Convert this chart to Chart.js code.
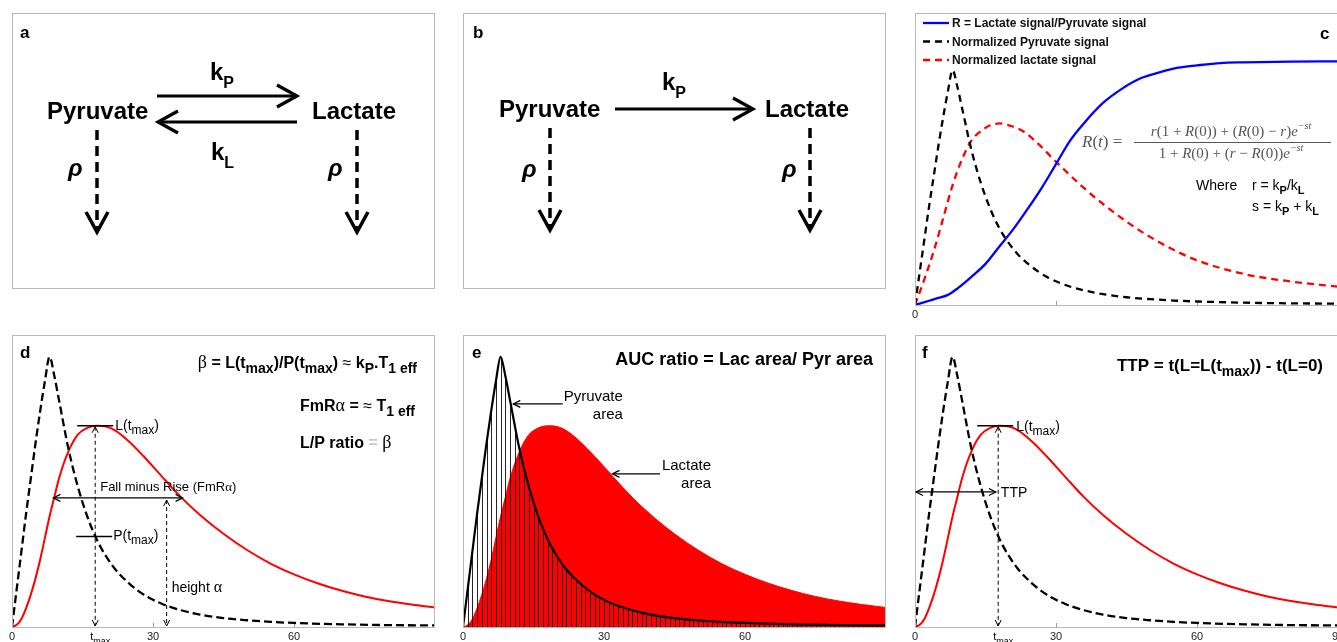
<!DOCTYPE html>
<html>
<head>
<meta charset="utf-8">
<script src="https://cdn.jsdelivr.net/npm/chart.js@4.4.1/dist/chart.umd.min.js"></script>
<style>
  html, body { margin: 0; padding: 0; background: #fff; overflow: hidden; width: 1337px; height: 642px; }
  canvas { position: absolute; }
</style>
</head>
<body>
<canvas id="pa"></canvas>
<canvas id="pb"></canvas>
<canvas id="pc"></canvas>
<canvas id="pd"></canvas>
<canvas id="pe"></canvas>
<canvas id="pf"></canvas>
<script>
// time (s) and normalized signals
const tickValues = [0, 30, 60, 90];
const pyrT   = [0, 1, 2, 3, 4, 5, 6, 7, 8, 9, 10, 12, 14, 16, 18, 20, 22, 25, 28, 32, 36, 40, 45, 50, 55, 60, 70, 80, 90];
const pyrVal = [0, 0.14, 0.28, 0.42, 0.55, 0.68, 0.80, 0.91, 1.0, 0.93, 0.84, 0.66, 0.52, 0.41, 0.325, 0.262, 0.213, 0.16, 0.12, 0.085, 0.062, 0.046, 0.033, 0.025, 0.019, 0.015, 0.010, 0.007, 0.006];
const lacT   = [0, 1, 2, 3, 4, 5, 6, 7, 8, 9, 10, 12, 14, 16, 18, 20, 22, 25, 28, 32, 36, 40, 45, 50, 55, 60, 65, 70, 75, 80, 85, 90];
const lacVal = [0, 0.008, 0.03, 0.07, 0.12, 0.18, 0.25, 0.33, 0.41, 0.48, 0.55, 0.65, 0.712, 0.737, 0.745, 0.742, 0.727, 0.685, 0.632, 0.555, 0.48, 0.415, 0.345, 0.285, 0.235, 0.195, 0.162, 0.135, 0.113, 0.096, 0.083, 0.072];
// panel c simulation
const cLacT   = [0, 2, 4, 6, 8, 10, 12, 14, 16, 18, 20, 23, 26, 30, 35, 40, 45, 50, 55, 60, 70, 80, 90];
const cLacVal = [0, 0.11, 0.23, 0.37, 0.51, 0.62, 0.70, 0.74, 0.765, 0.773, 0.765, 0.74, 0.69, 0.61, 0.515, 0.43, 0.355, 0.29, 0.235, 0.19, 0.132, 0.10, 0.078];
const ratioT   = [0, 3, 5, 7, 9, 12, 15, 18, 21, 24, 27, 30, 33, 36, 40, 44, 48, 52, 56, 60, 65, 70, 80, 90];
const ratioVal = [0, 0.018, 0.03, 0.043, 0.07, 0.12, 0.175, 0.25, 0.325, 0.41, 0.50, 0.60, 0.70, 0.775, 0.86, 0.92, 0.965, 0.99, 1.01, 1.02, 1.03, 1.033, 1.036, 1.037];
const legendLabels = ['R = Lactate signal/Pyruvate signal', 'Normalized Pyruvate signal', 'Normalized lactate signal'];

// annotation markers (time / signal level)
const tMax = 17.7, lTmax = 0.745, pTmax = 0.335;
const fmrLevel = 0.478, fmrStart = 8.8, fmrEnd = 36.3;
const heightT = 32.9, heightTop = 0.47;
const pyrArrow = { level: 0.826, from: 21.2, to: 10.7 };
const lacArrow = { level: 0.567, from: 41.9, to: 31.8 };
const ttpLevel = 0.5, ttpEnd = 17.2;

const SANS = '"Liberation Sans", Arial, sans-serif';
const SERIF = '"Liberation Serif", "Times New Roman", serif';
const pts = (xs, ys) => xs.map((x, i) => ({ x: x, y: ys[i] }));

// text with sub/superscripts
function rich(ctx, x, y, parts, o) {
  const items = parts.map(p => typeof p === 'string' ? { t: p } : p);
  const fontOf = it => {
    const sz = (it.sub || it.sup) ? (o.sub || Math.round(o.size * 0.8)) : (it.size || o.size);
    return (it.style || o.style || '') + ' ' + (it.weight || o.weight || 'normal') + ' ' + sz + 'px ' + (it.family || o.family || SANS);
  };
  let total = 0;
  for (const it of items) { ctx.font = fontOf(it); it.w = ctx.measureText(it.t).width; total += it.w; }
  let cx = o.align === 'right' ? x - total : o.align === 'center' ? x - total / 2 : x;
  ctx.save();
  ctx.textAlign = 'left';
  ctx.textBaseline = 'alphabetic';
  for (const it of items) {
    ctx.font = fontOf(it);
    ctx.fillStyle = it.color || o.color || '#000';
    const dy = it.sub ? o.size * 0.32 : it.sup ? -o.size * 0.45 : 0;
    ctx.fillText(it.t, cx, y + dy);
    cx += it.w;
  }
  ctx.restore();
  return total;
}

function head(ctx, x, y, a, len, half) {
  const c = Math.cos(a), s = Math.sin(a);
  ctx.beginPath();
  ctx.moveTo(x - len * c + half * s, y - len * s - half * c);
  ctx.lineTo(x, y);
  ctx.lineTo(x - len * c - half * s, y - len * s + half * c);
  ctx.stroke();
}

function arrow(ctx, x1, y1, x2, y2, o) {
  ctx.save();
  ctx.strokeStyle = o.color || '#000';
  ctx.lineWidth = o.w || 1;
  ctx.setLineDash(o.dash || []);
  ctx.beginPath(); ctx.moveTo(x1, y1); ctx.lineTo(x2, y2); ctx.stroke();
  ctx.setLineDash([]);
  const a = Math.atan2(y2 - y1, x2 - x1);
  head(ctx, x2, y2, a, o.len || 6, o.half || 3);
  if (o.both) head(ctx, x1, y1, a + Math.PI, o.len || 6, o.half || 3);
  ctx.restore();
}

function hline(ctx, x1, x2, y, w) {
  ctx.save(); ctx.strokeStyle = '#000'; ctx.lineWidth = w || 1.5;
  ctx.beginPath(); ctx.moveTo(x1, y); ctx.lineTo(x2, y); ctx.stroke(); ctx.restore();
}

const M = 12, TOPM = 6, BOT = 18;

function panelPlugin(drawFn, curves, hatch) {
  return {
    id: 'panel',
    beforeDatasetsDraw(chart) {
      if (!curves) return;
      const ctx = chart.ctx, A = chart.chartArea, sx = chart.scales.x;
      ctx.save(); ctx.strokeStyle = '#999'; ctx.lineWidth = 1;
      tickValues.slice(1, -1).forEach(v => {
        const px = Math.round(sx.getPixelForValue(v)) + 0.5;
        ctx.beginPath(); ctx.moveTo(px, A.bottom); ctx.lineTo(px, A.bottom - 4); ctx.stroke();
      });
      ctx.restore();
    },
    beforeDatasetDraw(chart, args) {
      if (!hatch || args.index !== 0) return;
      const ctx = chart.ctx, A = chart.chartArea, sx = chart.scales.x;
      const meta = chart.getDatasetMeta(0), line = meta.dataset, p = meta.data;
      ctx.save();
      ctx.beginPath();
      if (line.updateControlPoints) line.updateControlPoints(A, 'x');
      if (typeof line.path === 'function') line.path(ctx);
      else p.forEach((q, i) => i ? ctx.lineTo(q.x, q.y) : ctx.moveTo(q.x, q.y));
      ctx.lineTo(p[p.length - 1].x, A.bottom);
      ctx.lineTo(p[0].x, A.bottom);
      ctx.closePath();
      ctx.clip();
      ctx.strokeStyle = 'rgba(0,0,0,0.85)'; ctx.lineWidth = 1;
      for (let t = 0; t <= 90; t++) {
        const px = Math.round(sx.getPixelForValue(t)) + 0.5;
        ctx.beginPath(); ctx.moveTo(px, A.top); ctx.lineTo(px, A.bottom); ctx.stroke();
      }
      ctx.restore();
    },
    afterDraw(chart) {
      const ctx = chart.ctx, A = chart.chartArea;
      ctx.save(); ctx.strokeStyle = '#b8b8b8'; ctx.lineWidth = 1;
      ctx.strokeRect(A.left + 0.5, A.top + 0.5, A.right - A.left - 1, A.bottom - A.top);
      ctx.restore();
      const sx = v => chart.scales.x.getPixelForValue(v);
      const sy = v => chart.scales.y.getPixelForValue(v);
      drawFn(ctx, A, sx, sy, chart);
    }
  };
}

function makePanel(id, box, opts) {
  const cv = document.getElementById(id);
  cv.width = box.w + 2 * M;
  cv.height = box.h + TOPM + BOT;
  cv.style.left = (box.x - M) + 'px';
  cv.style.top = (box.y - TOPM) + 'px';
  const curves = !!opts.datasets;
  return new Chart(cv, {
    type: 'line',
    data: { datasets: opts.datasets || [] },
    options: {
      responsive: false,
      animation: false,
      events: [],
      layout: { padding: { left: M, right: M, top: TOPM, bottom: curves ? 0 : BOT } },
      plugins: { legend: { display: false }, tooltip: { enabled: false } },
      elements: { point: { radius: 0 }, line: { tension: 0.4, cubicInterpolationMode: 'monotone' } },
      scales: {
        x: {
          type: 'linear', min: 0, max: 90, display: curves,
          afterBuildTicks: s => { s.ticks = tickValues.map(v => ({ value: v })); },
          afterFit: s => { s.height = BOT; s.paddingLeft = 0; s.paddingRight = 0; },
          grid: { display: false, drawTicks: false },
          border: { display: false },
          ticks: {
            padding: 3, color: '#222', maxRotation: 0, autoSkip: false,
            font: { size: 11, family: SANS },
            callback: v => (opts.labels || []).includes(v) ? String(v) : ''
          }
        },
        y: { display: false, min: 0, max: opts.ymax || 1 }
      }
    },
    plugins: [panelPlugin(opts.draw, curves, opts.hatch)]
  });
}

const pyrDashed = { data: pts(pyrT, pyrVal), borderColor: '#000', borderWidth: 2.3, borderDash: [8, 4], fill: false };
const lacSolid = { data: pts(lacT, lacVal), borderColor: '#ff0000', borderWidth: 2, fill: false };

// a
makePanel('pa', { x: 12, y: 13, w: 423, h: 293 }, {
  draw(ctx, A) {
    const L = A.left, T = A.top;
    rich(ctx, L + 8, T + 25, ['a'], { size: 17, weight: 'bold' });
    rich(ctx, L + 35, T + 106, ['Pyruvate'], { size: 24, weight: 'bold' });
    rich(ctx, L + 300, T + 106, ['Lactate'], { size: 24, weight: 'bold' });
    arrow(ctx, L + 145, T + 83, L + 285, T + 83, { w: 3.2, len: 20, half: 11 });
    arrow(ctx, L + 285, T + 109, L + 146, T + 109, { w: 3.2, len: 20, half: 11 });
    rich(ctx, L + 198, T + 67, ['k', { t: 'P', sub: true }], { size: 24, sub: 16, weight: 'bold' });
    rich(ctx, L + 199, T + 147, ['k', { t: 'L', sub: true }], { size: 24, sub: 16, weight: 'bold' });
    arrow(ctx, L + 85, T + 117, L + 85, T + 219, { w: 3.5, dash: [10, 6], len: 20, half: 11 });
    arrow(ctx, L + 345, T + 117, L + 345, T + 219, { w: 3.5, dash: [10, 6], len: 20, half: 11 });
    rich(ctx, L + 56, T + 163, ['ρ'], { size: 24, weight: 'bold', style: 'italic' });
    rich(ctx, L + 316, T + 163, ['ρ'], { size: 24, weight: 'bold', style: 'italic' });
  }
});

// b
makePanel('pb', { x: 463, y: 13, w: 423, h: 293 }, {
  draw(ctx, A) {
    const L = A.left, T = A.top;
    rich(ctx, L + 10, T + 25, ['b'], { size: 17, weight: 'bold' });
    rich(ctx, L + 36, T + 104, ['Pyruvate'], { size: 24, weight: 'bold' });
    rich(ctx, L + 302, T + 104, ['Lactate'], { size: 24, weight: 'bold' });
    arrow(ctx, L + 152, T + 96, L + 290, T + 96, { w: 3.2, len: 20, half: 11 });
    rich(ctx, L + 199, T + 77, ['k', { t: 'P', sub: true }], { size: 24, sub: 16, weight: 'bold' });
    arrow(ctx, L + 87, T + 115, L + 87, T + 217, { w: 3.5, dash: [10, 6], len: 20, half: 11 });
    arrow(ctx, L + 347, T + 115, L + 347, T + 217, { w: 3.5, dash: [10, 6], len: 20, half: 11 });
    rich(ctx, L + 59, T + 164, ['ρ'], { size: 24, weight: 'bold', style: 'italic' });
    rich(ctx, L + 319, T + 164, ['ρ'], { size: 24, weight: 'bold', style: 'italic' });
  }
});

// c
makePanel('pc', { x: 915, y: 13, w: 423, h: 292 }, {
  ymax: 1.243,
  labels: [0],
  datasets: [
    { label: legendLabels[0], data: pts(ratioT, ratioVal), borderColor: '#0000ff', borderWidth: 2.3, fill: false },
    { label: legendLabels[1], data: pts(pyrT, pyrVal), borderColor: '#000', borderWidth: 2.3, borderDash: [7, 5], fill: false },
    { label: legendLabels[2], data: pts(cLacT, cLacVal), borderColor: '#ff0000', borderWidth: 2.3, borderDash: [7, 5], fill: false }
  ],
  draw(ctx, A, sx, sy, chart) {
    const L = A.left, T = A.top;
    chart.data.datasets.forEach((ds, i) => {
      const y = T + 10 + i * 18.5;
      ctx.save(); ctx.strokeStyle = ds.borderColor; ctx.lineWidth = 2.3; ctx.setLineDash(ds.borderDash || []);
      ctx.beginPath(); ctx.moveTo(L + 8, y); ctx.lineTo(L + 34, y); ctx.stroke(); ctx.restore();
      ctx.save(); ctx.font = 'bold 12px ' + SANS; ctx.fillStyle = '#111'; ctx.textBaseline = 'middle';
      ctx.fillText(ds.label, L + 37, y + 1); ctx.restore();
    });
    rich(ctx, L + 405, T + 26, ['c'], { size: 17, weight: 'bold' });
    const g = { size: 15, family: SERIF, color: '#555' };
    const I = s => ({ t: s, style: 'italic' });
    rich(ctx, L + 167, T + 134, [I('R'), '(', I('t'), ') ='], { size: 17, family: SERIF, color: '#555' });
    ctx.save(); ctx.strokeStyle = '#555'; ctx.lineWidth = 1;
    ctx.beginPath(); ctx.moveTo(L + 219, T + 129.5); ctx.lineTo(L + 416, T + 129.5); ctx.stroke(); ctx.restore();
    rich(ctx, L + 316, T + 123, [I('r'), '(1 + ', I('R'), '(0)) + (', I('R'), '(0) − ', I('r'), ')', I('e'), { t: '−st', sup: true, style: 'italic' }], Object.assign({ align: 'center', sub: 10 }, g));
    rich(ctx, L + 316, T + 145, ['1 + ', I('R'), '(0) + (', I('r'), ' − ', I('R'), '(0))', I('e'), { t: '−st', sup: true, style: 'italic' }], Object.assign({ align: 'center', sub: 10 }, g));
    rich(ctx, L + 281, T + 177, ['Where'], { size: 14 });
    rich(ctx, L + 337, T + 177, ['r = k', { t: 'P', sub: true, weight: 'bold' }, '/k', { t: 'L', sub: true, weight: 'bold' }], { size: 14, sub: 11 });
    rich(ctx, L + 337, T + 198, ['s = k', { t: 'P', sub: true, weight: 'bold' }, ' + k', { t: 'L', sub: true, weight: 'bold' }], { size: 14, sub: 11 });
  }
});

// d
makePanel('pd', { x: 12, y: 335, w: 423, h: 292 }, {
  ymax: 1.081,
  labels: [0, 30, 60],
  datasets: [pyrDashed, lacSolid],
  draw(ctx, A, sx, sy) {
    const L = A.left, T = A.top;
    rich(ctx, L + 8, T + 23, ['d'], { size: 17, weight: 'bold' });
    rich(ctx, L + 405, T + 33, [{ t: 'β', family: SERIF, weight: 'normal', size: 18 }, ' = L(t', { t: 'max', sub: true }, ')/P(t', { t: 'max', sub: true }, ') ', { t: '≈', weight: 'normal' }, ' k', { t: 'P', sub: true }, '.T', { t: '1 eff', sub: true }], { size: 16, sub: 14, weight: 'bold', align: 'right' });
    rich(ctx, L + 288, T + 76, ['FmR', { t: 'α', family: SERIF, weight: 'normal', size: 18 }, ' = ', { t: '≈', weight: 'normal' }, ' T', { t: '1 eff', sub: true }], { size: 16, sub: 14, weight: 'bold' });
    rich(ctx, L + 288, T + 113, ['L/P ratio ', { t: '=', color: '#c8c8c8' }, ' ', { t: 'β', family: SERIF, weight: 'normal', size: 18 }], { size: 16, weight: 'bold' });
    const xm = sx(tMax), yL = sy(lTmax), yP = sy(pTmax);
    hline(ctx, xm - 18, xm + 18, yL);
    rich(ctx, xm + 20, yL + 4, ['L(t', { t: 'max', sub: true }, ')'], { size: 14, sub: 12 });
    hline(ctx, xm - 19, xm + 17, yP);
    rich(ctx, xm + 18, yP + 3, ['P(t', { t: 'max', sub: true }, ')'], { size: 14, sub: 12 });
    arrow(ctx, xm, yL + 1, xm, A.bottom - 1, { dash: [4, 3], both: true });
    const yF = sy(fmrLevel);
    arrow(ctx, sx(fmrStart), yF, sx(fmrEnd), yF, { w: 1.2, both: true, len: 7, half: 3.5 });
    rich(ctx, xm + 5, yF - 7, ['Fall minus Rise (FmR', { t: 'α', family: SERIF }, ')'], { size: 13 });
    const xh = sx(heightT);
    arrow(ctx, xh, sy(heightTop), xh, A.bottom - 1, { dash: [4, 3], both: true });
    rich(ctx, xh + 5, T + 257, ['height ', { t: 'α', family: SERIF, size: 16 }], { size: 14 });
    rich(ctx, xm - 5, A.bottom + 13, ['t', { t: 'max', sub: true }], { size: 11, sub: 9 });
  }
});

// e
makePanel('pe', { x: 463, y: 335, w: 423, h: 292 }, {
  ymax: 1.081,
  labels: [0, 30, 60],
  hatch: true,
  datasets: [
    { data: pts(pyrT, pyrVal), borderColor: '#000', borderWidth: 2.2, fill: false },
    { data: pts(lacT, lacVal), borderColor: '#ff0000', borderWidth: 1, backgroundColor: '#ff0000', fill: 'origin' }
  ],
  draw(ctx, A, sx, sy) {
    const L = A.left, T = A.top;
    rich(ctx, L + 9, T + 23, ['e'], { size: 17, weight: 'bold' });
    rich(ctx, L + 410, T + 30, ['AUC ratio = Lac area/ Pyr area'], { size: 18, weight: 'bold', align: 'right' });
    let y = sy(pyrArrow.level), x0 = sx(pyrArrow.from);
    arrow(ctx, x0, y, sx(pyrArrow.to), y, { w: 1.2, len: 7, half: 3.5 });
    let w = rich(ctx, x0 + 1, y - 3, ['Pyruvate'], { size: 15 });
    rich(ctx, x0 + 1 + w, y + 15, ['area'], { size: 15, align: 'right' });
    y = sy(lacArrow.level); x0 = sx(lacArrow.from);
    arrow(ctx, x0, y, sx(lacArrow.to), y, { w: 1.2, len: 7, half: 3.5 });
    w = rich(ctx, x0 + 2, y - 4, ['Lactate'], { size: 15 });
    rich(ctx, x0 + 2 + w, y + 14, ['area'], { size: 15, align: 'right' });
  }
});

// f
makePanel('pf', { x: 915, y: 335, w: 423, h: 292 }, {
  ymax: 1.081,
  labels: [0, 30, 60, 90],
  datasets: [pyrDashed, lacSolid],
  draw(ctx, A, sx, sy) {
    const L = A.left, T = A.top;
    rich(ctx, L + 7, T + 23, ['f'], { size: 17, weight: 'bold' });
    rich(ctx, L + 408, T + 36, ['TTP = t(L=L(t', { t: 'max', sub: true }, ')) - t(L=0)'], { size: 17, sub: 14, weight: 'bold', align: 'right' });
    const xm = sx(tMax), yL = sy(lTmax);
    hline(ctx, xm - 21, xm + 15, yL);
    rich(ctx, xm + 18, yL + 5, ['L(t', { t: 'max', sub: true }, ')'], { size: 14, sub: 12 });
    arrow(ctx, xm, yL + 1, xm, A.bottom - 1, { dash: [4, 3], both: true });
    const yT = sy(ttpLevel);
    arrow(ctx, sx(0) + 1, yT, sx(ttpEnd), yT, { w: 1.2, both: true, len: 7, half: 3.5 });
    rich(ctx, sx(ttpEnd) + 5, yT + 5, ['TTP'], { size: 14 });
    rich(ctx, xm - 5, A.bottom + 13, ['t', { t: 'max', sub: true }], { size: 11, sub: 9 });
  }
});
</script>
</body>
</html>
